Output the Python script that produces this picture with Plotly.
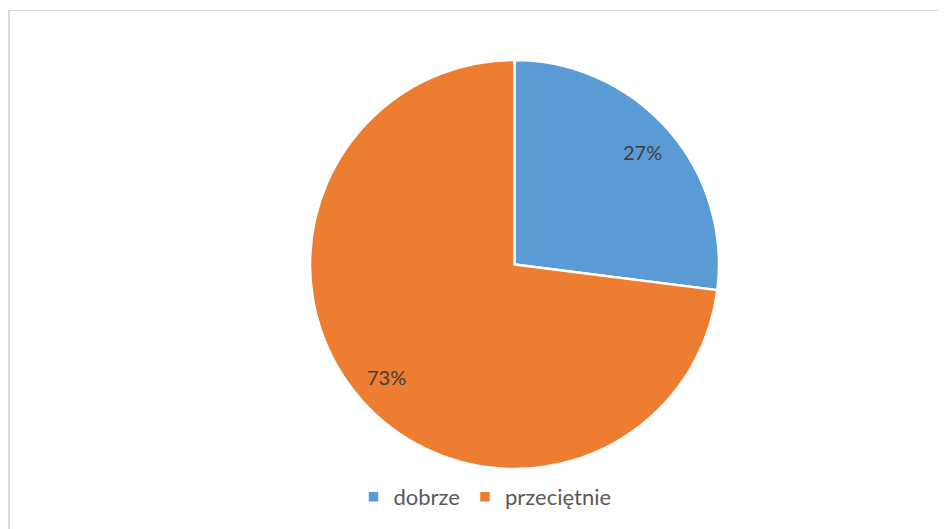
import math
import plotly.graph_objects as go

labels = ["dobrze", "przeciętnie"]
values = [27, 73]
colors = ["#5B9BD5", "#ED7D31"]

OFF = 8  # page body margin
W, H = 946 - OFF, 529 - OFF
cx, cy, R = 514.5 - OFF, 264.5 - OFF, 204.5  # pixel centre / radius of the pie (figure coords)

dom_x = [(cx - R) / W, (cx + R) / W]
dom_y = [(H - cy - R) / H, (H - cy + R) / H]

fig = go.Figure()
fig.add_trace(go.Pie(
    labels=labels, values=values, sort=False, direction="clockwise", rotation=0,
    marker=dict(colors=colors, line=dict(color="white", width=2.5)),
    textinfo="none", hoverinfo="label+percent",
    domain=dict(x=dom_x, y=dom_y),
))

total = sum(values)
cum = 0
for v in values:
    mid = (cum + v / 2) / total * 2 * math.pi
    cum += v
    r = 0.835 * R
    px = cx + r * math.sin(mid)
    py = cy - r * math.cos(mid)
    fig.add_annotation(x=px / W, y=(H - py) / H, xref="paper", yref="paper",
                       xanchor="center", yanchor="middle",
                       text=f"{round(v / total * 100)}%", showarrow=False,
                       font=dict(family="Lato, Open Sans, sans-serif", size=20, color="#404040"))

# chart area border
bx, by = 9 - OFF, 10.5 - OFF
fig.add_shape(type="line", xref="paper", yref="paper", x0=bx / W, x1=bx / W, y0=-0.1, y1=(H - by) / H,
              line=dict(color="#d9d9d9", width=2))
fig.add_shape(type="line", xref="paper", yref="paper", x0=0, x1=1.1, y0=(H - by) / H, y1=(H - by) / H,
              line=dict(color="#d9d9d9", width=1))

fig.update_layout(
    width=W, height=H, margin=dict(l=0, r=0, t=0, b=0),
    paper_bgcolor="white", plot_bgcolor="white",
    showlegend=True,
    legend=dict(orientation="h", x=(485 - OFF) / W, xanchor="center", y=(529 - 497) / H, yanchor="middle",
                font=dict(family="Lato, Open Sans, sans-serif", size=22, color="#595959"),
                itemclick=False, itemdoubleclick=False),
)

fig.write_html("out.html")
